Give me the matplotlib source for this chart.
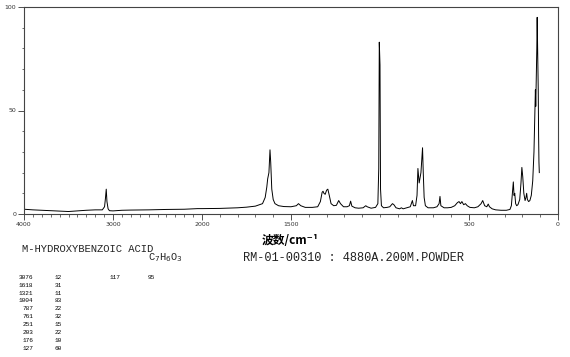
import numpy as np
import matplotlib.pyplot as plt
from matplotlib.ticker import FixedLocator, MultipleLocator

# traced spectrum: wavenumber (cm-1) and relative intensity
wn = [4000, 3900, 3800, 3700, 3600, 3500, 3400, 3300, 3200, 3120, 3095, 3085, 3076, 3068,
      3055, 3040, 3000, 2900, 2800, 2600, 2400, 2200, 2050, 2000,
      1900, 1800, 1750, 1700, 1660, 1645, 1636, 1631, 1624, 1618, 1614, 1608, 1600, 1590,
      1570, 1540, 1500, 1470, 1458, 1445, 1420, 1380, 1350, 1335, 1325, 1320, 1315, 1308,
      1300, 1293, 1285, 1275, 1260, 1245, 1232, 1222, 1205, 1185, 1172, 1165, 1158, 1140,
      1120, 1095, 1080, 1072, 1050, 1025, 1012, 1007, 1004, 1000, 997, 992, 980, 960, 945,
      930, 922, 910, 890, 880, 870, 850, 830, 818, 812, 800, 792, 787, 780, 770, 764, 761,
      757, 752, 745, 730, 700, 680, 668, 663, 658, 640, 620, 600, 580, 565, 556, 548, 540,
      530, 520, 510, 495, 470, 450, 432, 423, 412, 400, 392, 385, 370, 350, 320, 290, 270,
      262, 256, 251, 247, 243, 238, 232, 225, 215, 208, 203, 198, 192, 185, 180, 176, 172,
      165, 158, 150, 142, 135, 130, 127, 125, 122, 119, 117, 114, 111, 109, 107, 105]
inten = [2.3, 2.0, 1.8, 1.6, 1.4, 1.2, 1.5, 1.8, 2.0, 2.0, 3.5, 7.5, 12, 6,
         2.5, 1.6, 1.5, 1.8, 1.9, 2.0, 2.2, 2.3, 2.6, 2.6,
         2.7, 3.0, 3.3, 3.8, 5, 8, 13, 17, 20, 31, 25, 12, 7, 5,
         4, 3.6, 3.5, 4, 5, 4, 3.2, 3.2, 3.5, 6, 10.5, 11, 10, 9.5,
         11.5, 12, 9, 5, 4, 4.2, 6.5, 5, 3.5, 3.5, 4, 6.2, 3.8, 3,
         2.8, 3, 4, 3.5, 2.8, 3.2, 5, 22, 83, 72, 12, 4, 3, 3.2, 3.5,
         5, 4.5, 3, 2.5, 3, 2.5, 3, 3.5, 6.5, 4, 4, 9, 22, 15, 20, 28, 32,
         20, 8, 4, 3, 3, 3.5, 5, 8.5, 4, 3, 3, 3.2, 4, 5.5, 6, 5, 6,
         4.5, 5, 4, 3.2, 3, 3.5, 5, 6.5, 4, 3.5, 4.8, 3.5, 2.5, 2, 1.8, 1.8, 2.2,
         4, 10, 15.5, 9, 10, 5, 4, 4.5, 7, 15, 22.5, 18, 10, 6.5, 8, 10, 7,
         6, 6.5, 9, 16, 30, 48, 60, 52, 65, 80, 95, 78, 60, 38, 25, 20]

# peak table printed under the chart
peak_wn = [3076, 1618, 1321, 1004, 787, 761, 251, 203, 176, 127]
peak_int = [12, 31, 11, 83, 22, 32, 15, 22, 10, 60]
extra_wn = [117]
extra_int = [95]

x_ticks = [4000, 3000, 2000, 1500, 500, 0]
y_ticks = [0, 50, 100]


# axis is compressed by half above 2000 cm-1
def fwd(w):
    w = np.asarray(w, dtype=float)
    return np.where(w > 2000, 2000 + (w - 2000) / 2, w)


def inv(u):
    u = np.asarray(u, dtype=float)
    return np.where(u > 2000, 2000 + (u - 2000) * 2, u)


W, H = 570, 357
fig = plt.figure(figsize=(W / 100, H / 100), dpi=100)
ax = fig.add_axes([24 / W, 1 - 214 / H, 534 / W, 207 / H])
ax.set_xscale('function', functions=(fwd, inv))
ax.plot(wn, inten, color='black', lw=0.7)
ax.set_xlim(4000, 0)
ax.set_ylim(0, 100)

ax.xaxis.set_major_locator(FixedLocator(x_ticks))
ax.xaxis.set_minor_locator(MultipleLocator(100))
ax.set_xticklabels([str(t) for t in x_ticks])
ax.yaxis.set_major_locator(FixedLocator(y_ticks))
ax.yaxis.set_minor_locator(MultipleLocator(10))
ax.tick_params(which='major', length=4, width=0.6, labelsize=4.5, pad=1.5, colors='#333333')
ax.tick_params(which='minor', length=1.8, width=0.5, colors='#333333')
for s in ax.spines.values():
    s.set_linewidth(0.8)
    s.set_color('#444444')

fig.text(290 / W, 1 - 240 / H, '波数/cm⁻¹', family=['Noto Sans CJK SC', 'DejaVu Sans'],
         fontsize=8.5, fontweight='bold', ha='center', va='center')

mono = 'Liberation Mono'
fig.text(22 / W, 1 - 248.5 / H, 'M-HYDROXYBENZOIC ACID', family=mono, fontsize=7.6,
         va='center', color='#222222')
fig.text(148 / W, 1 - 258 / H, r'C$_7$H$_6$O$_3$', family=mono, fontsize=7.5, va='center',
         color='#222222')
fig.text(243 / W, 1 - 258 / H, 'RM-01-00310 : 4880A.200M.POWDER', family=mono,
         fontsize=8.6, va='center', color='#222222')

for i, (p, v) in enumerate(zip(peak_wn, peak_int)):
    y = 1 - (277.3 + i * 7.9) / H
    fig.text(33.5 / W, y, str(p), family=mono, fontsize=4.4, ha='right', va='center')
    fig.text(62 / W, y, str(v), family=mono, fontsize=4.4, ha='right', va='center')
for i, (p, v) in enumerate(zip(extra_wn, extra_int)):
    y = 1 - (277.3 + i * 7.9) / H
    fig.text(120 / W, y, str(p), family=mono, fontsize=4.4, ha='right', va='center')
    fig.text(155 / W, y, str(v), family=mono, fontsize=4.4, ha='right', va='center')

fig.savefig('out.png', dpi=100)
